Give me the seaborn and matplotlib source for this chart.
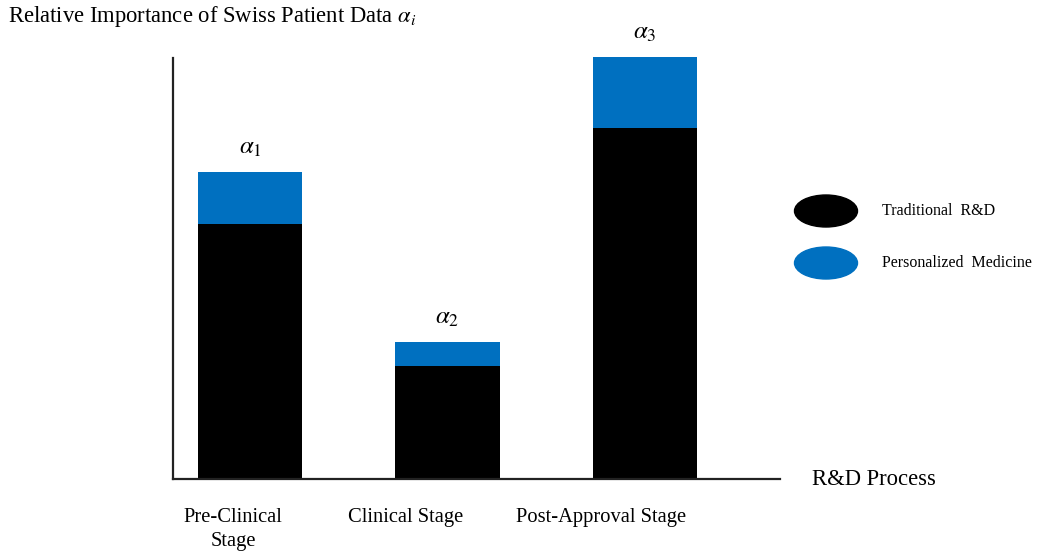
import numpy as np
import seaborn as sns
import matplotlib.pyplot as plt
from matplotlib.patches import Ellipse

stages = ["Pre-Clinical\nStage", "Clinical Stage", "Post-Approval Stage"]
traditional = [2.55, 1.13, 3.51]
personalized = [0.52, 0.24, 0.71]
alpha_labels = [r"$\alpha_1$", r"$\alpha_2$", r"$\alpha_3$"]
legend_labels = ["Traditional  R&D", "Personalized  Medicine"]

BLUE = "#0070C0"

sns.set_theme(style="white")
plt.rcParams["font.family"] = ["Liberation Serif", "DejaVu Serif"]
plt.rcParams["mathtext.fontset"] = "stix"
plt.rcParams["text.color"] = "black"
plt.rcParams["xtick.labelcolor"] = "black"

fig = plt.figure(figsize=(10.46, 5.58), dpi=100)
ax = fig.add_axes([0.1654, 0.1416, 0.5803, 0.7545])

totals = np.add(traditional, personalized)
sns.barplot(x=stages, y=totals, color=BLUE, saturation=1, width=0.527,
            ax=ax, clip_on=False, linewidth=0)
sns.barplot(x=stages, y=traditional, color="black", saturation=1, width=0.527,
            ax=ax, clip_on=False, linewidth=0)

for i, (t, lab) in enumerate(zip(totals, alpha_labels)):
    ax.annotate(lab, (i, t), xytext=(0, 9), textcoords="offset points",
                ha="center", va="bottom", fontsize=18, annotation_clip=False)

ax.set_xlim(-0.39, 2.684)
ax.set_ylim(0, 4.21)
ax.set_yticks([])
# labels sit a bit left of the bars in the original
label_shift = [-0.086, -0.213, -0.223]
ax.set_xticks(np.arange(3) + label_shift, stages)
ax.tick_params(axis="x", length=0, pad=21, labelsize=14.8)
for t in ax.get_xticklabels():
    t.set_linespacing(1.35)
ax.set_xlabel("")
ax.set_ylabel("")
sns.despine(ax=ax)
for s in ["left", "bottom"]:
    ax.spines[s].set_linewidth(1.6)
    ax.spines[s].set_color("#222222")

fig.text(8 / 1046, 1 - 22 / 558, r"Relative Importance of Swiss Patient Data $\alpha_i$",
         fontsize=16.3, va="baseline")
fig.text(812 / 1046, 1 - 485 / 558, "R&D Process", fontsize=16.3, va="baseline")

# legend drawn as ellipses
for cy, col, lab in zip([211, 263], ["black", BLUE], legend_labels):
    fig.add_artist(Ellipse((826 / 1046, 1 - cy / 558), 63 / 1046, 32 / 558,
                           transform=fig.transFigure, color=col))
    fig.text(882 / 1046, 1 - cy / 558, lab, fontsize=11.5, va="center")

fig.savefig("out.png", dpi=100)
